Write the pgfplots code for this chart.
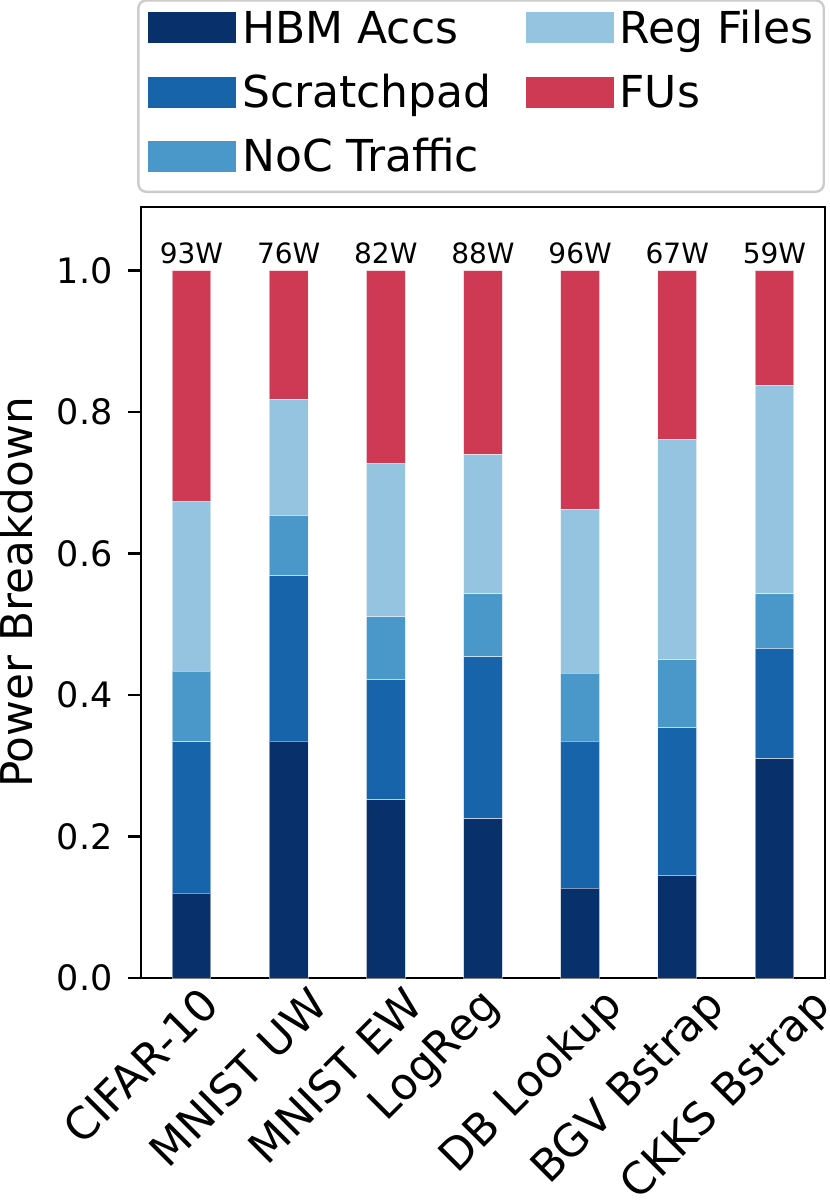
\documentclass[border=0pt]{standalone}
\usepackage{fontspec}
\setmainfont{DejaVu Sans}
\usepackage{graphicx}
\usepackage{pgfplots}
\usepackage{pgfplotstable}
\pgfplotsset{compat=1.18}
\definecolor{chbm}{HTML}{08306B}
\definecolor{cscr}{HTML}{1864AA}
\definecolor{cnoc}{HTML}{4A98C9}
\definecolor{creg}{HTML}{95C4E0}
\definecolor{cfu}{HTML}{CE3A54}
\newcommand{\rl}[1]{\rotatebox{45}{\vphantom{lp}#1}}
\pgfplotstableread{
x hbm scr noc reg fu lab
0 0.120 0.214 0.100 0.239 0.327 93W
1 0.335 0.234 0.085 0.164 0.182 76W
2 0.252 0.170 0.089 0.216 0.273 82W
3 0.225 0.229 0.089 0.197 0.260 88W
4 0.127 0.208 0.096 0.2315 0.3375 96W
5 0.145 0.209 0.096 0.312 0.238 67W
6 0.310 0.156 0.077 0.295 0.162 59W
}\data
\begin{document}
\begin{tikzpicture}
\begin{axis}[
  name=ax,
  scale only axis, width=342pt, height=385.5pt,
  ybar stacked, bar width=0.4,
  xmin=-0.52, xmax=6.52, ymin=0, ymax=1.09,
  enlargelimits=false,
  axis line style={line width=1.2pt},
  every tick/.style={line width=1.2pt, black},
  tick align=outside, major tick length=6.5pt,
  xtick={0,1,2,3,4,5,6},
  xticklabels={\rl{CIFAR-10},\rl{MNIST UW},\rl{MNIST EW},\rl{LogReg},\rl{DB Lookup},\rl{BGV Bstrap},\rl{CKKS Bstrap}},
  xtick style={draw=none},
  xticklabel style={font=\fontsize{22}{26}\selectfont, anchor=north, inner sep=0pt, xshift=-24pt, yshift=3.5pt},
  ytick={0,0.2,0.4,0.6,0.8,1.0},
  ytick pos=left,
  /pgf/number format/assume math mode=true,
  yticklabel style={font=\fontsize{17.5}{20}\selectfont, inner sep=0pt, xshift=-7.5pt, /pgf/number format/.cd, fixed, fixed zerofill, precision=1},
  ylabel={Power Breakdown},
  every axis y label/.style={at={(axis description cs:-0.158,0.5)}, rotate=90, anchor=base, font=\fontsize{21.9}{26}\selectfont},
  legend columns=2,
  legend cell align=left,
  legend image code/.code={\fill[#1, sharp corners] (0pt,0pt) rectangle (44pt,15.5pt);},
  legend style={at={(1,1)}, anchor=south east, yshift=7pt,
    draw=black!20, line width=1.2pt, rounded corners=4pt,
    inner sep=5pt,
    font=\fontsize{22}{26}\selectfont,
    nodes={anchor=base west, inner sep=0pt, text height=16.5pt, text depth=5pt},
    row sep=10.6pt,
    /tikz/every odd column/.append style={column sep=3pt},
    /tikz/every even column/.append style={column sep=17pt}},
  every axis plot/.append style={draw=white, draw opacity=0.5, line width=0.5pt},
]
\addlegendimage{fill=chbm, draw=none}
\addlegendimage{fill=creg, draw=none}
\addlegendimage{fill=cscr, draw=none}
\addlegendimage{fill=cfu, draw=none}
\addlegendimage{fill=cnoc, draw=none}
\addplot[fill=chbm] table[x=x, y=hbm]{\data};
\addplot[fill=cscr] table[x=x, y=scr]{\data};
\addplot[fill=cnoc] table[x=x, y=noc]{\data};
\addplot[fill=creg] table[x=x, y=reg]{\data};
\addplot[fill=cfu, nodes near coords, point meta=explicit symbolic,
  visualization depends on={\thisrow{fu} \as \fuval},
  nodes near coords style={anchor=south, inner sep=0pt, yshift={\fuval*176.83+3}, font=\fontsize{14}{16}\selectfont, text=black, opacity=1}]
  table[x=x, y=fu, meta=lab]{\data};
\legend{HBM Accs, Reg Files, Scratchpad, FUs, NoC Traffic}
\end{axis}
\path (ax.south west) ++(-70.5pt,-112pt) coordinate (bl);
\path (ax.north east) ++(2.5pt,103.5pt) coordinate (tr);
\pgfresetboundingbox
\path[use as bounding box] (bl) rectangle (tr);
\end{tikzpicture}
\end{document}
